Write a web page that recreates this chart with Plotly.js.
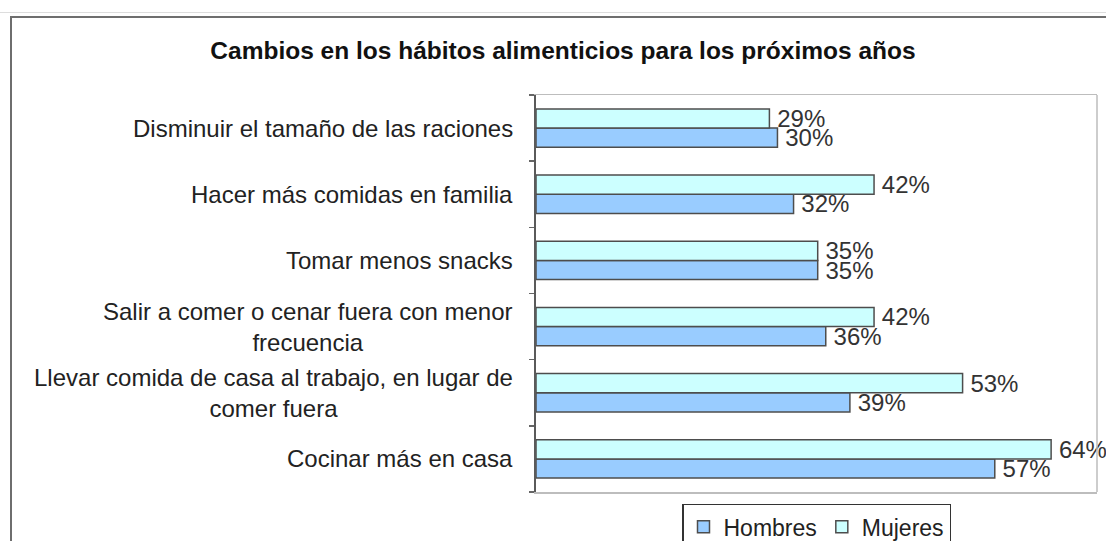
<!DOCTYPE html>
<html>
<head>
<meta charset="utf-8">
<script src="https://cdn.plot.ly/plotly-3.0.1.min.js"></script>
<style>
  html, body { margin: 0; padding: 0; background: #ffffff; }
  #wrap { position: relative; width: 1106px; height: 541px; overflow: hidden; }
  #topfaint { position: absolute; left: 0; top: 12px; width: 1106px; height: 1px; background: #dddddd; }
  #frame { position: absolute; left: 10px; top: 16px; width: 1200px; height: 700px;
           border-left: 2px solid #6e6e6e; border-top: 2px solid #6e6e6e; box-sizing: border-box; }
  #chart { position: absolute; left: 0; top: 0; width: 1106px; height: 541px; }
</style>
</head>
<body>
<div id="wrap">
  <div id="topfaint"></div>
  <div id="frame"></div>
  <div id="chart"></div>
</div>
<script>
// Categories, listed bottom-to-top (as on the chart's category axis)
var categories = [
  "Cocinar más en casa",
  "Llevar comida de casa al trabajo, en lugar de<br>comer fuera",
  "Salir a comer o cenar fuera con menor<br>frecuencia",
  "Tomar menos snacks",
  "Hacer más comidas en familia",
  "Disminuir el tamaño de las raciones"
];
var hombres = [57, 39, 36, 35, 32, 30];
var mujeres = [64, 53, 42, 35, 42, 29];
var seriesNames = ["Hombres", "Mujeres"];
var chartTitle = "Cambios en los hábitos alimenticios para los próximos años";

var FONT = "Liberation Sans, Arial, sans-serif";

function barTrace(name, vals, fill) {
  return {
    type: "bar",
    orientation: "h",
    name: name,
    y: categories,
    x: vals,
    marker: { color: fill, line: { color: "#4d4d4d", width: 1.5 } },
    texttemplate: "\u2009%{x}%",
    textposition: "outside",
    constraintext: "none",
    cliponaxis: false,
    textfont: { family: FONT, size: 24, color: "#333333" },
    hoverinfo: "skip"
  };
}

var data = [
  barTrace(seriesNames[0], hombres, "#99ccff"),
  barTrace(seriesNames[1], mujeres, "#ccffff")
];

var annotations = categories.map(function (c) {
  return {
    xref: "paper", yref: "y", x: 0, y: c,
    xanchor: "right", yanchor: "middle", xshift: -21,
    align: "center", showarrow: false, text: c,
    font: { family: FONT, size: 24, color: "#222222" }
  };
});

var layout = {
  width: 1106, height: 541,
  paper_bgcolor: "rgba(0,0,0,0)",
  plot_bgcolor: "#ffffff",
  margin: { l: 536, r: 9, t: 95, b: 49, pad: 0, autoexpand: false },
  title: {
    text: "<b>" + chartTitle + "</b>",
    x: 0.509, xanchor: "center", y: 0.907, yanchor: "middle",
    font: { family: FONT, size: 24.5, color: "#111111" }
  },
  barmode: "group",
  bargap: 0.42,
  bargroupgap: 0,
  xaxis: {
    range: [0, 69.7], showgrid: false, zeroline: false,
    showticklabels: false, ticks: "",
    showline: true, mirror: true, linecolor: "#bdbdbd", linewidth: 1.5,
    fixedrange: true
  },
  yaxis: {
    type: "category", showgrid: false, zeroline: false,
    showticklabels: false,
    ticks: "outside", tickson: "boundaries", ticklen: 5, tickwidth: 1.5, tickcolor: "#666666",
    showline: true, linecolor: "#5a5a5a", linewidth: 2,
    fixedrange: true
  },
  shapes: [{
    type: "line", xref: "paper", yref: "paper", x0: 1, x1: 1, y0: 0, y1: 1,
    line: { color: "#bdbdbd", width: 1.5 }
  }],
  annotations: annotations,
  showlegend: true,
  legend: {
    orientation: "h", x: 0.5, xanchor: "center", y: -0.03, yanchor: "top",
    bordercolor: "#333333", borderwidth: 1.5, bgcolor: "#ffffff",
    font: { family: FONT, size: 23, color: "#222222" },
    itemwidth: 30, tracegroupgap: 0,
    traceorder: "normal"
  }
};

Plotly.newPlot("chart", data, layout, { displayModeBar: false, staticPlot: true });
</script>
</body>
</html>
